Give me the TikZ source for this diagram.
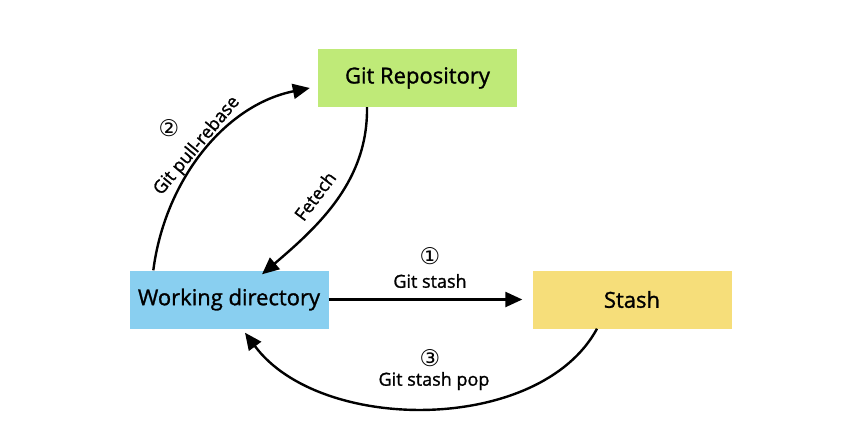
\documentclass[tikz,border=0pt]{standalone}
\usepackage{fontspec}
\setmainfont{Open Sans}[FakeBold=1.2]
\newfontfamily\symfont{DejaVu Sans}
\usetikzlibrary{arrows.meta}
\definecolor{repogreen}{RGB}{191,234,120}
\definecolor{wdblue}{RGB}{137,207,240}
\definecolor{stashyellow}{RGB}{246,222,122}
\tikzset{
  box/.style={minimum width=199pt, minimum height=58pt, inner sep=0pt, font=\fontsize{22}{24}\selectfont},
  conn/.style={line width=2.4pt, -{Triangle[length=17pt,width=15pt]}},
  lbl/.style={font=\fontsize{18}{20}\selectfont, inner sep=1pt},
  num/.style={font=\symfont\fontsize{23}{25}\selectfont, inner sep=0pt}
}
\begin{document}
\begin{tikzpicture}[x=1pt,y=-1pt]
\useasboundingbox[fill=white] (0,0) rectangle (864,442);
\node[box, fill=repogreen] (git) at (417.5,78) {Git Repository};
\node[box, fill=wdblue] (wd) at (229,299.5) {Working directory};
\node[box, fill=stashyellow] (st) at (632,299.5) {Stash};
% pull-rebase
\draw[conn] ([xshift=24pt]wd.north west) .. controls (165,180) and (225,105) .. ([xshift=-8pt,yshift=-10pt]git.west);
\node[lbl, rotate=50] (lpr) at (197,146) {Git pull-rebase};
\node[num] (n2) at (169,128) {②};
% fetch
\draw[conn] ([xshift=-50.5pt]git.south) .. controls (368,180) and (320,225) .. ([xshift=33pt,yshift=-4pt]wd.north);
\node[lbl, rotate=53] (lf) at (315,196) {Fetech};
% git stash
\draw[conn] (wd.east) -- ([xshift=-10pt]st.west);
\node[lbl] (ls) at (430,281) {Git stash};
\node[num] (n1) at (430,256) {①};
% stash pop
\draw[conn] ([xshift=-35pt]st.south) .. controls (540,434) and (320,434) .. ([xshift=16pt,yshift=-4pt]wd.south);
\node[lbl] (lsp) at (434,381) {Git stash pop};
\node[num] (n3) at (430,358) {③};
\end{tikzpicture}
\end{document}
